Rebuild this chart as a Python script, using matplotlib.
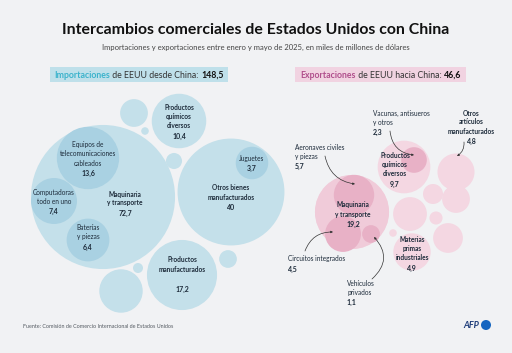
import matplotlib
matplotlib.use("Agg")
import matplotlib.pyplot as plt
from matplotlib.patches import Circle, Rectangle, FancyArrowPatch
import numpy as np

plt.rcParams['font.family'] = ['Lato', 'DejaVu Sans']

# ---- data (miles de millones de dólares) ----
imp_total = "148,5"
exp_total = "46,6"

imp_labels = ["Maquinaria\ny transporte", "Otros bienes\nmanufacturados", "Productos\nmanufacturados",
              "Productos\nquímicos\ndiversos", "", "", "", "", "", ""]
imp_values = [72.7, 40, 17.2, 10.4, 2.7, 0.2, 0.9, 6.6, 0.35, 1.1]
imp_value_txt = ["72,7", "40", "17,2", "10,4", "", "", "", "", "", ""]

imp_sub_labels = ["Equipos de\ntelecomunicaciones\ncableados", "Computadoras\ntodo en uno", "Baterías\ny piezas", "Juguetes"]
imp_sub_values = [13.6, 7.4, 6.4, 3.7]
imp_sub_txt = ["13,6", "7,4", "6,4", "3,7"]

exp_labels = ["Maquinaria\ny transporte", "Productos\nquímicos\ndiversos", "Otros\nartículos\nmanufacturados",
              "Materias\nprimas\nindustriales", "", "", "", "", "", ""]
exp_values = [19.2, 9.7, 4.8, 4.9, 4.0, 1.4, 2.7, 0.6, 3.1, 0.2]
exp_value_txt = ["19,2", "9,7", "4,8", "4,9", "", "", "", "", "", ""]

exp_sub_labels = ["Aeronaves civiles\ny piezas", "Circuitos integrados", "Vehículos\nprivados", "Vacunas, antisueros\ny otros"]
exp_sub_values = [5.7, 4.5, 1.1, 2.3]
exp_sub_txt = ["5,7", "4,5", "1,1", "2,3"]

# ---- layout (pixel coords) ----
K = 8.45  # radius per sqrt(value)
imp_xy = [(103, 197), (231, 192), (182, 275), (179, 121), (134, 113), (145, 131),
          (174, 161), (121, 291), (138, 268), (228, 259)]
imp_sub_xy = [(88, 158), (54, 201), (88, 240), (252, 163)]
exp_xy = [(352, 212), (404, 167), (456, 172), (412, 252), (410, 214), (433, 194),
          (456, 199), (436, 218), (448, 238), (393, 233)]
exp_sub_xy = [(354, 195), (343, 234), (371, 234), (414, 160)]

BG = "#f1f2f4"
BLUE = "#c4e0ea"
BLUE_IN = "#a9d1e2"
PINK = "#f4d7e2"
PINK_MAIN = "#f0cbd9"
PINK_IN = "#e8b1c6"
INK = "#1d2b3a"
GREY = "#555b62"

fig = plt.figure(figsize=(5.12, 3.53), dpi=100, facecolor=BG)
ax = fig.add_axes([0, 0, 1, 1])
ax.set_xlim(0, 512)
ax.set_ylim(353, 0)
ax.set_aspect("equal")
ax.axis("off")

fig.text(0.5, 1 - 30 / 353, "Intercambios comerciales de Estados Unidos con China",
         ha="center", va="center", fontsize=11.4, fontweight="bold", color="#111111")
fig.text(0.5, 1 - 47 / 353, "Importaciones y exportaciones entre enero y mayo de 2025, en miles de millones de dólares",
         ha="center", va="center", fontsize=5.5, color="#444444")


def header(x0, x1, color_box, color_word, word, rest, total):
    ax.add_patch(Rectangle((x0, 67), x1 - x0, 15, color=color_box, lw=0))
    parts = [(word, color_word, "bold"), (rest, "#333333", "normal"), (total, "#111111", "bold")]
    fig.canvas.draw()
    r = fig.canvas.get_renderer()
    widths = []
    objs = []
    for s, c, w in parts:
        t = ax.text(0, 75, s, fontsize=6.3, color=c, fontweight=w, va="center", ha="left")
        bb = t.get_window_extent(r)
        widths.append(bb.width)
        objs.append(t)
    x = (x0 + x1) / 2 - sum(widths) / 2
    for t, w in zip(objs, widths):
        t.set_x(x)
        x += w


header(50, 228, "#bfe0ea", "#3cb3cc", "Importaciones", " de EEUU desde China: ", imp_total)
header(295, 466, "#f1d3e1", "#b04f8c", "Exportaciones", " de EEUU hacia China: ", exp_total)


def circles(xy, values, color):
    for (x, y), v in zip(xy, values):
        ax.add_patch(Circle((x, y), K * np.sqrt(v), color=color, lw=0))


circles(imp_xy, imp_values, BLUE)
circles(imp_sub_xy, imp_sub_values, BLUE_IN)
circles(exp_xy, exp_values, PINK)
ax.add_patch(Circle(exp_xy[0], K * np.sqrt(exp_values[0]), color=PINK_MAIN, lw=0))
circles(exp_sub_xy, exp_sub_values, PINK_IN)

FS = 4.7
LH = 9  # line height px


def label(x, y, name, val, bold_name=True, gap=1.0, ha="center"):
    lines = name.split("\n")
    for i, ln in enumerate(lines):
        ax.text(x, y + i * LH, ln, fontsize=FS, ha=ha, va="center", color=INK,
                fontweight="bold" if bold_name else "normal")
    ax.text(x, y + (len(lines) - 1) * LH + LH * gap + 1, val, fontsize=FS + 0.3, ha=ha, va="center",
            color=INK, fontweight="bold")


# import labels
label(125, 194, imp_labels[0], imp_value_txt[0])
label(231, 188, imp_labels[1], imp_value_txt[1])
label(182, 260, imp_labels[2], imp_value_txt[2], gap=2.2)
label(179, 108, imp_labels[3], imp_value_txt[3])
label(88, 145, imp_sub_labels[0], imp_sub_txt[0], bold_name=False)
label(54, 192, imp_sub_labels[1], imp_sub_txt[1], bold_name=False)
label(88, 228, imp_sub_labels[2], imp_sub_txt[2], bold_name=False)
label(252, 158, imp_sub_labels[3], imp_sub_txt[3], bold_name=False)

# export labels
label(353, 205, exp_labels[0], exp_value_txt[0])
label(395, 156, exp_labels[1], exp_value_txt[1])
label(471, 113, exp_labels[2], "", )
ax.text(472, 141, exp_value_txt[2], fontsize=FS + 0.3, ha="center", va="center", color=INK, fontweight="bold")
label(412, 240, exp_labels[3], exp_value_txt[3])
label(295, 147, exp_sub_labels[0], exp_sub_txt[0], bold_name=False, ha="left")
label(288, 259, exp_sub_labels[1], exp_sub_txt[1], bold_name=False, ha="left")
label(347, 283, exp_sub_labels[2], exp_sub_txt[2], bold_name=False, ha="left")
label(373, 113, exp_sub_labels[3], exp_sub_txt[3], bold_name=False, ha="left")


def arrow(p0, p1, rad):
    ax.add_patch(FancyArrowPatch(p0, p1, connectionstyle=f"arc3,rad={rad}", arrowstyle="-|>",
                                 mutation_scale=3, lw=0.5, color="#333333", shrinkA=0, shrinkB=0))


arrow((325, 156), (355, 184), 0.35)
arrow((305, 251), (333, 232), -0.35)
arrow((372, 279), (374, 237), 0.5)
arrow((390, 131), (414, 155), 0.4)
arrow((464, 142), (457, 156), -0.3)

ax.text(23, 327, "Fuente: Comisión de Comercio Internacional de Estados Unidos", fontsize=3.9,
        color=GREY, va="center", ha="left")
ax.text(479, 325, "AFP", fontsize=6.5, fontweight="bold", fontstyle="italic", color="#1f3d7a",
        ha="right", va="center")
ax.add_patch(Circle((486, 325), 5, color="#1565c0", lw=0))

fig.savefig("out.png", dpi=100, facecolor=BG)
